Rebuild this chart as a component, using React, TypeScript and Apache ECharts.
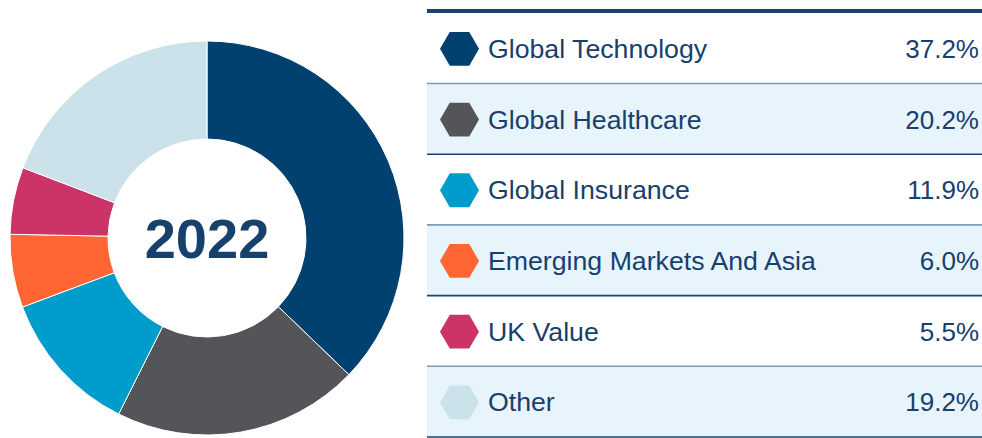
import React, { useEffect, useRef } from "react";
import * as echarts from "echarts";

const categories = [
  "Global Technology",
  "Global Healthcare",
  "Global Insurance",
  "Emerging Markets And Asia",
  "UK Value",
  "Other",
];
const values = [37.2, 20.2, 11.9, 6.0, 5.5, 19.2];
const colors = ["#00416f", "#545559", "#009ccc", "#ff6633", "#cc3366", "#cce2ea"];
const centerLabel = "2022";

const NAVY = "#17406d";
const FONT = "'Liberation Sans', Arial, sans-serif";

export default function App() {
  const ref = useRef<HTMLDivElement>(null);
  useEffect(() => {
    if (!ref.current) return;
    const chart = echarts.init(ref.current, undefined, { renderer: "svg" });

    const tableLeft = 427;
    const tableRight = 982;
    const top = 13;
    const rowH = 70.7;
    const graphics: any[] = [];
    graphics.push({
      type: "rect",
      shape: { x: tableLeft, y: 9, width: tableRight - tableLeft, height: 4 },
      style: { fill: "#1a426f" },
    });
    categories.forEach((name, i) => {
      const y0 = top + i * rowH;
      const cy = y0 + rowH / 2 + 0.5;
      if (i % 2 === 1) {
        graphics.push({
          type: "rect",
          shape: { x: tableLeft, y: y0, width: tableRight - tableLeft, height: rowH },
          style: { fill: "#e8f4fc" },
        });
      }
      graphics.push({
        type: "rect",
        shape: { x: tableLeft, y: y0 + rowH - 1, width: tableRight - tableLeft, height: 1.6 },
        style: { fill: i % 2 === 0 ? "#7f98b3" : "#1a426f" },
        z: 10,
      });
      const hx = 459.5;
      const hw = 19.5;
      const hh = 16.9;
      graphics.push({
        type: "polygon",
        shape: {
          points: [
            [hx - hw, cy],
            [hx - hw / 2, cy - hh],
            [hx + hw / 2, cy - hh],
            [hx + hw, cy],
            [hx + hw / 2, cy + hh],
            [hx - hw / 2, cy + hh],
          ],
        },
        style: { fill: colors[i] },
      });
      graphics.push({
        type: "text",
        x: 488,
        y: cy,
        style: {
          text: name,
          fill: NAVY,
          font: `26.7px ${FONT}`,
          textAlign: "left",
          textVerticalAlign: "middle",
        },
      });
      graphics.push({
        type: "text",
        x: 979,
        y: cy,
        style: {
          text: values[i].toFixed(1) + "%",
          fill: NAVY,
          font: `26px ${FONT}`,
          textAlign: "right",
          textVerticalAlign: "middle",
        },
      });
    });

    chart.setOption({
      animation: false,
      graphic: graphics,
      series: [
        {
          type: "pie",
          center: [207, 238],
          radius: [99, 197],
          startAngle: 90,
          clockwise: true,
          label: {
            show: true,
            position: "center",
            formatter: () => centerLabel,
            fontSize: 56,
            fontWeight: "bold",
            fontFamily: FONT,
            color: NAVY,
          },
          labelLine: { show: false },
          emphasis: { disabled: true },
          itemStyle: { borderColor: "#ffffff", borderWidth: 1 },
          data: categories.map((name, i) => ({
            name,
            value: values[i],
            itemStyle: { color: colors[i] },
            label: { show: i === 0 },
          })),
        },
      ],
    });
    return () => chart.dispose();
  }, []);
  return (
    <div
      ref={ref}
      style={{ position: "fixed", left: 0, top: 0, width: 982, height: 438, background: "#ffffff" }}
    />
  );
}
